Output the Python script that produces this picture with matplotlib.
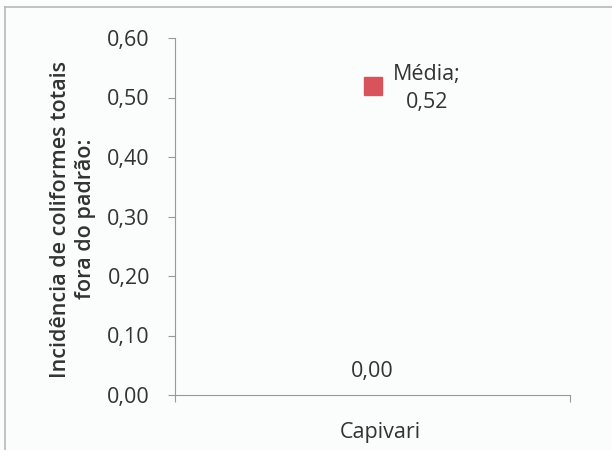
import matplotlib
matplotlib.use("Agg")
import matplotlib.pyplot as plt
from matplotlib.lines import Line2D

# dados
categorias = ["Capivari"]
media = [0.52]
outra_serie = [0.00]
rotulo_media = "Média;\n0,52"
yticks = [0.0, 0.1, 0.2, 0.3, 0.4, 0.5, 0.6]
ytick_labels = ["0,00", "0,10", "0,20", "0,30", "0,40", "0,50", "0,60"]

plt.rcParams['font.family'] = ['Open Sans', 'DejaVu Sans']
fs = 15.5

fig = plt.figure(figsize=(6.12, 4.5), dpi=100)
fig.patch.set_facecolor('#fbfcfc')
ax = fig.add_axes([175 / 612, 1 - 395 / 450, 395 / 612, 357 / 450])
ax.set_facecolor('#fbfcfc')

# borda do gráfico (só superior e esquerda aparecem)
fig.add_artist(Line2D([5 / 612, 1], [1 - 7 / 450, 1 - 7 / 450],
                      transform=fig.transFigure, color='#b8b8b8', lw=1.2))
fig.add_artist(Line2D([5 / 612, 5 / 612], [0, 1 - 7 / 450],
                      transform=fig.transFigure, color='#b8b8b8', lw=1.2))

x = [0.5 for _ in categorias]
ax.plot(x, media, linestyle='none', marker='s', markersize=13,
        color='#d9535d', markeredgecolor='#d9535d')

ax.annotate(rotulo_media, (x[0], media[0]), xytext=(39, -2),
            textcoords='offset points', ha='center', va='center',
            multialignment='center', fontsize=fs, color='#333333',
            linespacing=1.45)
ax.annotate("0,00", (x[0], outra_serie[0]), xytext=(0, 9),
            textcoords='offset points', ha='center', va='bottom',
            fontsize=fs, color='#333333')

ax.set_xlim(0, 1)
ax.set_ylim(0, 0.6)
ax.set_yticks(yticks)
ax.set_yticklabels(ytick_labels, fontsize=fs, color='#333333')
ax.set_xticks([0, 1])
ax.set_xticklabels(["", ""])
ax.tick_params(axis='y', length=5, color='#999999', pad=13)
ax.tick_params(axis='x', length=5, color='#999999')
ax.text(0.52, -0.105, categorias[0], transform=ax.transAxes, ha='center',
        va='center', fontsize=fs, color='#333333')

for s in ['top', 'right']:
    ax.spines[s].set_visible(False)
ax.spines['left'].set_color('#999999')
ax.spines['bottom'].set_color('#999999')

fig.text(73 / 612, 1 - 219 / 450,
         "Incidência de coliformes totais\nfora do padrão:",
         rotation=90, ha='center', va='center', fontsize=15.5,
         fontweight='semibold', color='#333333', linespacing=1.3)

fig.savefig("out.png", dpi=100, facecolor=fig.get_facecolor())
